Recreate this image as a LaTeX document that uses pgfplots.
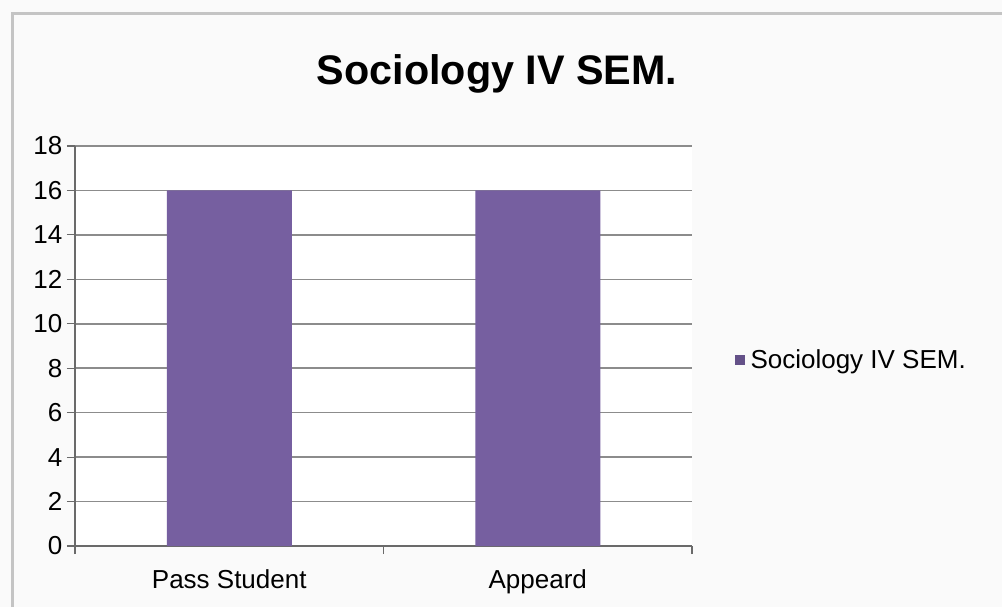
\documentclass[border=0pt]{standalone}
\usepackage{fontspec}
\setmainfont{Liberation Sans}
\usepackage{pgfplots}
\pgfplotsset{compat=1.18}
\definecolor{barcol}{HTML}{765FA0}
\definecolor{gridcol}{HTML}{8C8C8C}
\definecolor{axcol}{HTML}{6A6A6A}
\definecolor{framecol}{HTML}{C4C4C4}
\definecolor{bgcol}{HTML}{FAFAFA}

\begin{document}
\begin{tikzpicture}
% page = 1002 x 607 px, 1 px = 0.75 pt
\useasboundingbox (0,0) rectangle (751.5pt,455.25pt);
\fill[bgcol] (0,0) rectangle (751.5pt,455.25pt);
\draw[framecol, line width=2.25pt] (9pt,0) -- (9pt,444.75pt) -- (751.5pt,444.75pt);

\begin{axis}[
    at={(56.25pt,45.75pt)}, anchor=south west,
    scale only axis,
    width=462.75pt, height=300pt,
    axis background/.style={fill=white},
    ybar, bar width=93.75pt,
    xmin=-0.5, xmax=1.5,
    ymin=0, ymax=18,
    ytick={0,2,...,18},
    xtick={-0.5,0.5,1.5},
    xticklabels={},
    extra x ticks={0,1},
    extra x tick labels={Pass Student, Appeard},
    extra x tick style={major tick length=0pt, grid=none,
        xticklabel style={yshift=-14pt}},
    axis x line*=bottom, axis y line*=left,
    tick align=outside,
    major tick length=6pt,
    tick style={axcol, line width=0.8pt},
    axis line style={axcol, line width=0.9pt, -},
    ymajorgrids,
    grid style={gridcol, line width=1.2pt},
    /pgf/number format/assume math mode=true,
    tick label style={font=\fontsize{19.5}{22}\selectfont},
    title={\bfseries Sociology IV SEM.},
    title style={font=\fontsize{31}{36}\selectfont, at={(0.684,1.16)}, anchor=center},
    legend style={at={(1.062,0.465)}, anchor=west, draw=none, fill=none,
        font=\fontsize{19.5}{22}\selectfont},
    legend image code/.code={\fill[barcol!85!black] (0pt,-4pt) rectangle (8pt,4pt);},
    legend cell align=left,
    legend style={/tikz/every even column/.append style={column sep=0pt},
        nodes={inner xsep=4pt}},
]
\addplot[fill=barcol, draw=none] coordinates {(0,16) (1,16)};
\legend{Sociology IV SEM.}
\end{axis}
\end{tikzpicture}
\end{document}
